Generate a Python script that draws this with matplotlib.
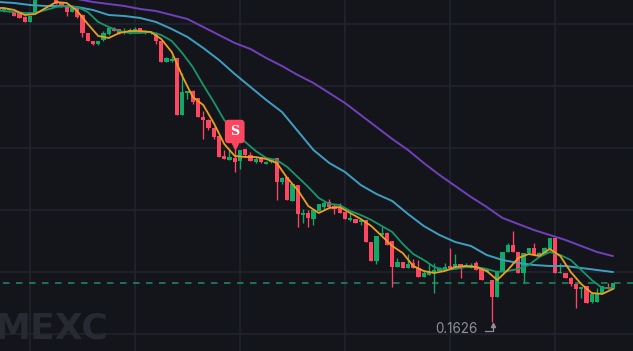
import matplotlib
matplotlib.use("Agg")
import matplotlib.pyplot as plt
import numpy as np

# prices are written in units of 0.0001
first_candle = -6
opens = [2250,2250,2250,2248,2244,2236,2226,2244,2280,2286,2276,2276,2264,2256,2246,2254,2240,2204,2188,2182,
         2190,2202,2214,2212,2204,2204,2206,2214,2204,2204,2204,2188,2146,2148,2154,2040,2084,2088,2074,2036,
         2030,2014,1998,1958,1950,1954,1948,1972,1960,1946,1956,1942,1946,1954,1906,1916,1868,1900,1840,1844,
         1832,1848,1856,1866,1858,1854,1846,1830,1832,1826,1830,1786,1748,1800,1804,1788,1736,1746,1734,1744,
         1734,1716,1720,1724,1728,1732,1738,1734,1742,1736,1734,1744,1732,1726,1710,1676,1726,1766,1780,1766,
         1724,1764,1774,1758,1764,1770,1794,1724,1724,1714,1702,1692,1698,1666,1666,1684,1696,1692]
closes = [2252,2252,2252,2238,2234,2226,2238,2280,2286,2278,2284,2262,2258,2246,2254,2236,2204,2188,2182,2188,
          2204,2214,2208,2204,2208,2210,2212,2204,2206,2206,2188,2146,2154,2152,2040,2086,2088,2066,2036,2030,
          2014,1996,1956,1952,1956,1946,1970,1960,1948,1952,1946,1946,1950,1906,1914,1870,1902,1842,1844,1834,
          1850,1862,1864,1856,1852,1844,1832,1834,1824,1830,1786,1748,1798,1804,1780,1736,1746,1734,1742,1734,
          1716,1724,1726,1730,1734,1736,1734,1742,1734,1740,1740,1730,1710,1730,1676,1728,1766,1780,1766,1724,
          1764,1774,1760,1764,1774,1794,1724,1726,1714,1702,1692,1696,1664,1682,1682,1698,1692,1704]
highs = [2254,2254,2254,2250,2246,2238,2238,2282,2288,2290,2288,2278,2266,2256,2260,2256,2242,2204,2188,2188,
         2208,2216,2216,2212,2214,2214,2216,2214,2210,2208,2206,2188,2156,2158,2154,2124,2088,2090,2074,2048,
         2032,2016,1998,1970,1970,1974,1970,1972,1966,1956,1956,1948,1952,1954,1916,1916,1902,1900,1852,1850,
         1850,1862,1868,1872,1862,1864,1846,1844,1832,1832,1830,1786,1798,1818,1806,1788,1754,1746,1762,1752,
         1750,1728,1744,1744,1736,1744,1774,1762,1742,1744,1744,1748,1736,1734,1710,1730,1766,1784,1808,1766,
         1764,1774,1784,1766,1776,1794,1794,1744,1724,1716,1702,1696,1698,1682,1694,1698,1704,1704]
lows = [2248,2246,2246,2238,2234,2226,2226,2244,2278,2276,2274,2262,2256,2238,2246,2234,2196,2188,2180,2180,
        2188,2200,2208,2202,2202,2202,2204,2204,2202,2202,2182,2146,2146,2146,2040,2040,2072,2062,2036,1992,
        2010,1992,1956,1952,1950,1926,1932,1956,1948,1944,1944,1942,1944,1870,1902,1870,1868,1816,1824,1816,
        1820,1848,1852,1856,1842,1844,1832,1828,1824,1820,1786,1748,1742,1798,1780,1696,1736,1734,1734,1734,
        1716,1716,1720,1684,1728,1732,1734,1734,1714,1736,1734,1730,1710,1726,1626,1676,1726,1766,1766,1724,
        1704,1764,1760,1758,1762,1770,1724,1724,1714,1698,1654,1674,1664,1664,1666,1684,1692,1692]

# fast averages read every second candle, slow ones every third
ma_fast = [2254,2254,2250,2240,2242,2254,2266,2264,2248,2222,2198,2194,2204,2208,2208,2206,2192,2166,2118,2076,
           2060,2024,1982,1958,1956,1956,1952,1944,1914,1890,1858,1844,1854,1856,1844,1832,1818,1798,1778,1764,
           1738,1728,1724,1728,1736,1738,1736,1728,1710,1730,1754,1762,1758,1772,1758,1726,1702,1684,1682,1692]
ma_mid = [2250,2248,2246,2244,2244,2250,2256,2258,2256,2246,2226,2216,2208,2204,2204,2206,2200,2188,2164,2136,
          2100,2066,2030,2004,1986,1968,1954,1950,1936,1916,1896,1874,1862,1860,1848,1840,1830,1818,1806,1782,
          1762,1750,1736,1730,1732,1736,1736,1732,1726,1728,1732,1740,1756,1766,1760,1750,1730,1710,1694,1694]
ma_slow = [2266,2264,2260,2258,2258,2256,2250,2240,2238,2234,2226,2212,2196,2174,2150,2122,2096,2070,2046,2008,
           1970,1944,1926,1900,1882,1868,1842,1818,1800,1786,1778,1760,1750,1744,1740,1738,1738,1734,1730,1726]
ma_long = [2302,2296,2292,2286,2276,2272,2266,2262,2258,2252,2248,2240,2232,2216,2200,2184,2172,2154,2138,2120,
           2104,2084,2064,2040,2016,1992,1970,1944,1920,1898,1876,1856,1834,1822,1810,1800,1790,1778,1766,1758]

last_price = 0.1704
low_label = "0.1626"
sell_candle = 39
y_grid = [0.2222, 0.2098, 0.1974, 0.1850, 0.1726, 0.1602]
x_grid = [0, 20, 40, 60, 80, 100]

BG = "#14151a"
GRID = "#20232b"
RED = "#fe4660"
GREEN = "#0fa968"
LABEL = "#8d9099"

o = np.array(opens) / 10000
c = np.array(closes) / 10000
h = np.array(highs) / 10000
l = np.array(lows) / 10000
idx = np.arange(first_candle, first_candle + len(o))
idx2 = np.arange(first_candle - 1, first_candle - 1 + 2 * len(ma_fast), 2)
idx3 = np.arange(first_candle, first_candle + 3 * len(ma_slow), 3)
colors = [GREEN if c[i] >= o[i] else RED for i in range(len(o))]

fig = plt.figure(figsize=(6.33, 3.51), dpi=100, facecolor=BG)
ax = fig.add_axes([0, 0, 1, 1], facecolor=BG)
ax.set_xlim(-5.714, 114.857)
ax.set_ylim(0.1568, 0.2270)
ax.axis("off")

for v in y_grid:
    ax.axhline(v, color=GRID, lw=1.3, zorder=1)
for v in x_grid:
    ax.axvline(v, color=GRID, lw=1.3, zorder=1)

# watermark
ax.text(14.9, 0.1613, "MEXC", color="#272a33", fontsize=26, fontweight="bold",
        family="DejaVu Sans", ha="right", va="center", zorder=1.5)

ax.axhline(last_price, xmin=0.005, color="#1a7d58", lw=1.3, dashes=(3.6, 3.6), zorder=2)

ax.vlines(idx, l, h, colors=colors, lw=0.95, zorder=3)
ax.bar(idx, np.abs(c - o), bottom=np.minimum(o, c), width=0.8, color=colors, lw=0, zorder=3)

ax.plot(idx3, np.array(ma_long) / 10000, color="#7140bd", lw=1.4, zorder=4)
ax.plot(idx3, np.array(ma_slow) / 10000, color="#3f9fc2", lw=1.4, zorder=4)
ax.plot(idx2, np.array(ma_mid) / 10000, color="#17966c", lw=1.3, zorder=4)
ax.plot(idx2, np.array(ma_fast) / 10000, color="#eb9f1e", lw=1.3, zorder=5)

# sell marker
sell_top = h[sell_candle - first_candle]
ax.plot([sell_candle], [sell_top + 0.0004], marker="v", ms=5, color=RED, lw=0, zorder=6)
ax.text(sell_candle, sell_top + 0.0033, "S", color="white", fontsize=9, fontweight="bold",
        family="DejaVu Serif", ha="center", va="center", zorder=7,
        bbox=dict(boxstyle="round,pad=0.42,rounding_size=0.3", fc=RED, ec="none"))

# lowest price label, the little arrow glyph is in none of the fonts so it is drawn
low_i = int(np.argmin(l))
low_x, low_y = idx[low_i], l[low_i]
ax.text(low_x - 2.7, low_y - 0.0014, low_label, color=LABEL, fontsize=9.7,
        family="Inter", ha="right", va="center", zorder=6)
ax.plot([low_x - 1.33, low_x + 0.14, low_x + 0.14],
        [low_y - 0.0018, low_y - 0.0018, low_y - 0.0006], color=LABEL, lw=0.9, zorder=6)
ax.plot([low_x + 0.14], [low_y - 0.0006], marker="^", ms=3, color=LABEL, lw=0, zorder=6)

fig.savefig("out.png", dpi=100, facecolor=BG)
